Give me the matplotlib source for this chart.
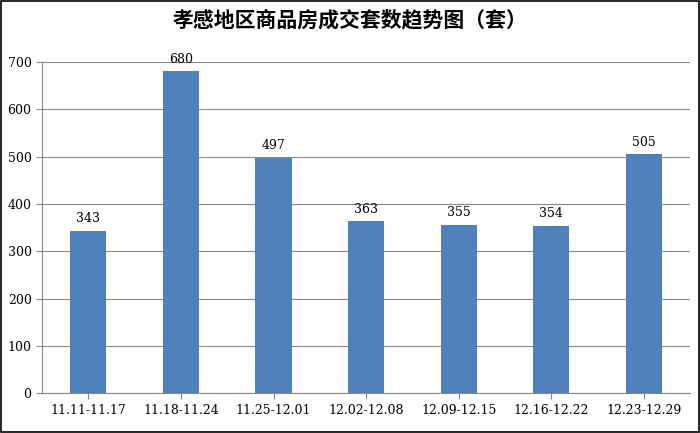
import matplotlib
matplotlib.use("Agg")
import matplotlib.pyplot as plt

categories = ["11.11-11.17", "11.18-11.24", "11.25-12.01", "12.02-12.08", "12.09-12.15", "12.16-12.22", "12.23-12.29"]
values = [343, 680, 497, 363, 355, 354, 505]
yticks = [0, 100, 200, 300, 400, 500, 600, 700]

plt.rcParams['font.family'] = ['Noto Sans CJK SC', 'DejaVu Sans']
fig = plt.figure(figsize=(7, 4.33), dpi=100)
ax = fig.add_axes([0.06, 0.092, 0.926, 0.765])
x = range(len(categories))
ax.bar(x, values, width=0.39, color="#4F81BD", zorder=3)
for i, v in enumerate(values):
    ax.text(i, v + 12, str(v), ha="center", va="bottom", fontsize=9, family="DejaVu Serif")
ax.set_xlim(-0.5, len(categories) - 0.5)
ax.set_ylim(0, 700)
ax.set_yticks(yticks)
ax.set_xticks(list(x))
ax.set_xticklabels(categories, fontsize=9, family="DejaVu Serif")
ax.set_yticklabels([str(t) for t in yticks], fontsize=9, family="DejaVu Serif")
ax.yaxis.grid(True, color="#888888", linewidth=0.8, zorder=0)
for s in ["top", "right"]:
    ax.spines[s].set_visible(False)
ax.spines["left"].set_color("#888888")
ax.spines["bottom"].set_color("#888888")
ax.tick_params(axis="both", length=4, color="#888888")
fig.text(0.5, 0.955, "孝感地区商品房成交套数趋势图（套）", ha="center", va="center", fontsize=15, fontweight="bold")
fig.patches.append(plt.Rectangle((0.001, 0.002), 0.997, 0.996, transform=fig.transFigure, fill=False, edgecolor="black", linewidth=1.2))
fig.savefig("out.png", dpi=100)
